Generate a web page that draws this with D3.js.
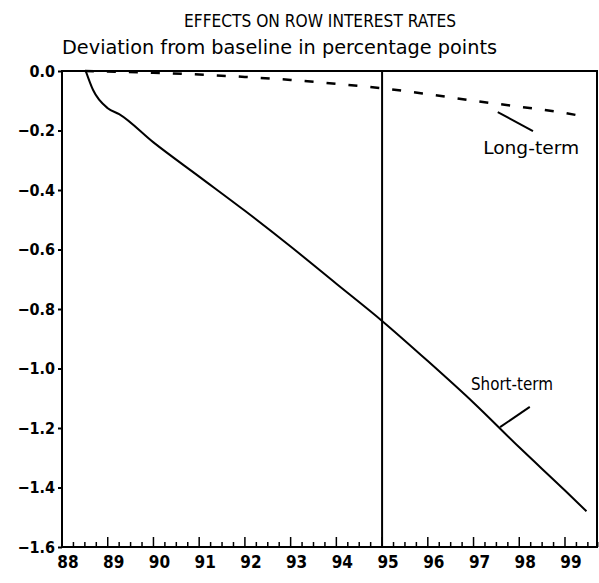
<!DOCTYPE html>
<html>
<head>
    <title>Effects on ROW interest rates</title>
    <meta charset="utf-8">
</head>
<body style="margin:0;background:#fff">
<style>
    text {
        font-family: "DejaVu Sans Condensed", "DejaVu Sans", sans-serif;
        fill: #000;
    }
    .tick-label {
        font-weight: bold;
        font-size: 16px;
    }
</style>
<script src="https://d3js.org/d3.v7.min.js"></script>
<script>
    const SIZES = {
        WIDTH: 599,
        HEIGHT: 583,
        LEFT: 62,
        RIGHT: 597,
        TOP: 71,
        BOTTOM: 547
    };

    // data
    const shortYears = [1988.52, 1988.68, 1989.0, 1989.25, 1990, 1991, 1992, 1993, 1994, 1995, 1996, 1997, 1998, 1999, 1999.47];
    const shortValues = [0, -0.064, -0.125, -0.145, -0.24, -0.355, -0.47, -0.59, -0.715, -0.84, -0.975, -1.115, -1.265, -1.41, -1.48];
    const longYears = [1988.5, 1989, 1990, 1991, 1992, 1993, 1994, 1995, 1996, 1997, 1998, 1999, 1999.47];
    const longValues = [0, -0.002, -0.006, -0.012, -0.02, -0.03, -0.043, -0.058, -0.078, -0.1, -0.12, -0.141, -0.155];
    const yearLabels = ['88', '89', '90', '91', '92', '93', '94', '95', '96', '97', '98', '99'];
    const yTicks = [0, -0.2, -0.4, -0.6, -0.8, -1.0, -1.2, -1.4, -1.6];
    const markerYear = 1995;

    // annotations in data units: label centre and leader line ends
    const annotations = [
        {text: 'Long-term', x: 1998.26, y: -0.262, width: 96, from: [1997.53, -0.138], to: [1998.3, -0.202]},
        {text: 'Short-term', x: 1997.84, y: -1.055, width: 82, from: [1997.58, -1.197], to: [1998.23, -1.129]}
    ];

    const svg = d3.select('body').append('svg')
        .attr('width', SIZES.WIDTH)
        .attr('height', SIZES.HEIGHT);

    const x = d3.scaleLinear().domain([1988, 1999.7]).range([SIZES.LEFT, SIZES.RIGHT]);
    const y = d3.scaleLinear().domain([-1.6, 0]).range([SIZES.BOTTOM, SIZES.TOP]);

    // titles
    svg.append('text')
        .attr('x', 320).attr('y', 27)
        .attr('text-anchor', 'middle')
        .style('font-size', '17px')
        .attr('textLength', 272)
        .attr('lengthAdjust', 'spacingAndGlyphs')
        .text('EFFECTS ON ROW INTEREST RATES');
    svg.append('text')
        .attr('x', 62).attr('y', 54)
        .style('font-size', '19px')
        .attr('textLength', 435)
        .attr('lengthAdjust', 'spacingAndGlyphs')
        .text('Deviation from baseline in percentage points');

    // y axis, ticks outward
    const yAxis = svg.append('g')
        .attr('transform', `translate(${SIZES.LEFT},0)`)
        .call(d3.axisLeft(y).tickValues(yTicks).tickSize(4).tickPadding(3).tickFormat(d3.format('.1f')));
    yAxis.select('.domain').remove();
    yAxis.selectAll('line').attr('stroke-width', 2);
    yAxis.selectAll('text').attr('class', 'tick-label')
        .text(d => d3.format('.1f')(d).replace('-', '\u2212'));

    // x axis: quarterly ticks pointing inward, yearly ones longer
    const quarters = d3.range(1988, 1999.76, 0.25);
    svg.append('g')
        .selectAll('line')
        .data(quarters)
        .join('line')
        .attr('x1', d => x(d)).attr('x2', d => x(d))
        .attr('y1', SIZES.BOTTOM)
        .attr('y2', d => SIZES.BOTTOM - (d % 1 === 0 ? 10 : 5))
        .attr('stroke', '#000')
        .attr('stroke-width', 1.5);

    svg.append('g')
        .selectAll('text')
        .data(yearLabels)
        .join('text')
        .attr('class', 'tick-label')
        .attr('x', (d, i) => x(1988 + i) + 6)
        .attr('y', 568)
        .attr('text-anchor', 'middle')
        .style('font-size', '17px')
        .text(d => d);

    // frame
    svg.append('rect')
        .attr('x', SIZES.LEFT).attr('y', SIZES.TOP)
        .attr('width', SIZES.RIGHT - SIZES.LEFT)
        .attr('height', SIZES.BOTTOM - SIZES.TOP)
        .attr('fill', 'none')
        .attr('stroke', '#000')
        .attr('stroke-width', 2);

    // vertical marker
    svg.append('line')
        .attr('x1', x(markerYear)).attr('x2', x(markerYear))
        .attr('y1', y(0)).attr('y2', y(-1.6))
        .attr('stroke', '#000')
        .attr('stroke-width', 2);

    const line = d3.line()
        .x(d => x(d[0]))
        .y(d => y(d[1]))
        .curve(d3.curveMonotoneX);

    svg.append('path')
        .datum(d3.zip(shortYears, shortValues))
        .attr('d', line)
        .attr('fill', 'none')
        .attr('stroke', '#000')
        .attr('stroke-width', 2);

    svg.append('path')
        .datum(d3.zip(longYears, longValues))
        .attr('d', line)
        .attr('fill', 'none')
        .attr('stroke', '#000')
        .attr('stroke-width', 2.5)
        .attr('stroke-dasharray', '9,13');

    // labels with leader lines
    annotations.forEach(a => {
        svg.append('line')
            .attr('x1', x(a.from[0])).attr('y1', y(a.from[1]))
            .attr('x2', x(a.to[0])).attr('y2', y(a.to[1]))
            .attr('stroke', '#000')
            .attr('stroke-width', 2);
        svg.append('text')
            .attr('x', x(a.x)).attr('y', y(a.y))
            .attr('text-anchor', 'middle')
            .attr('dominant-baseline', 'middle')
            .style('font-size', '18px')
            .attr('textLength', a.width)
            .attr('lengthAdjust', 'spacingAndGlyphs')
            .text(a.text);
    });
</script>
</body>
</html>
